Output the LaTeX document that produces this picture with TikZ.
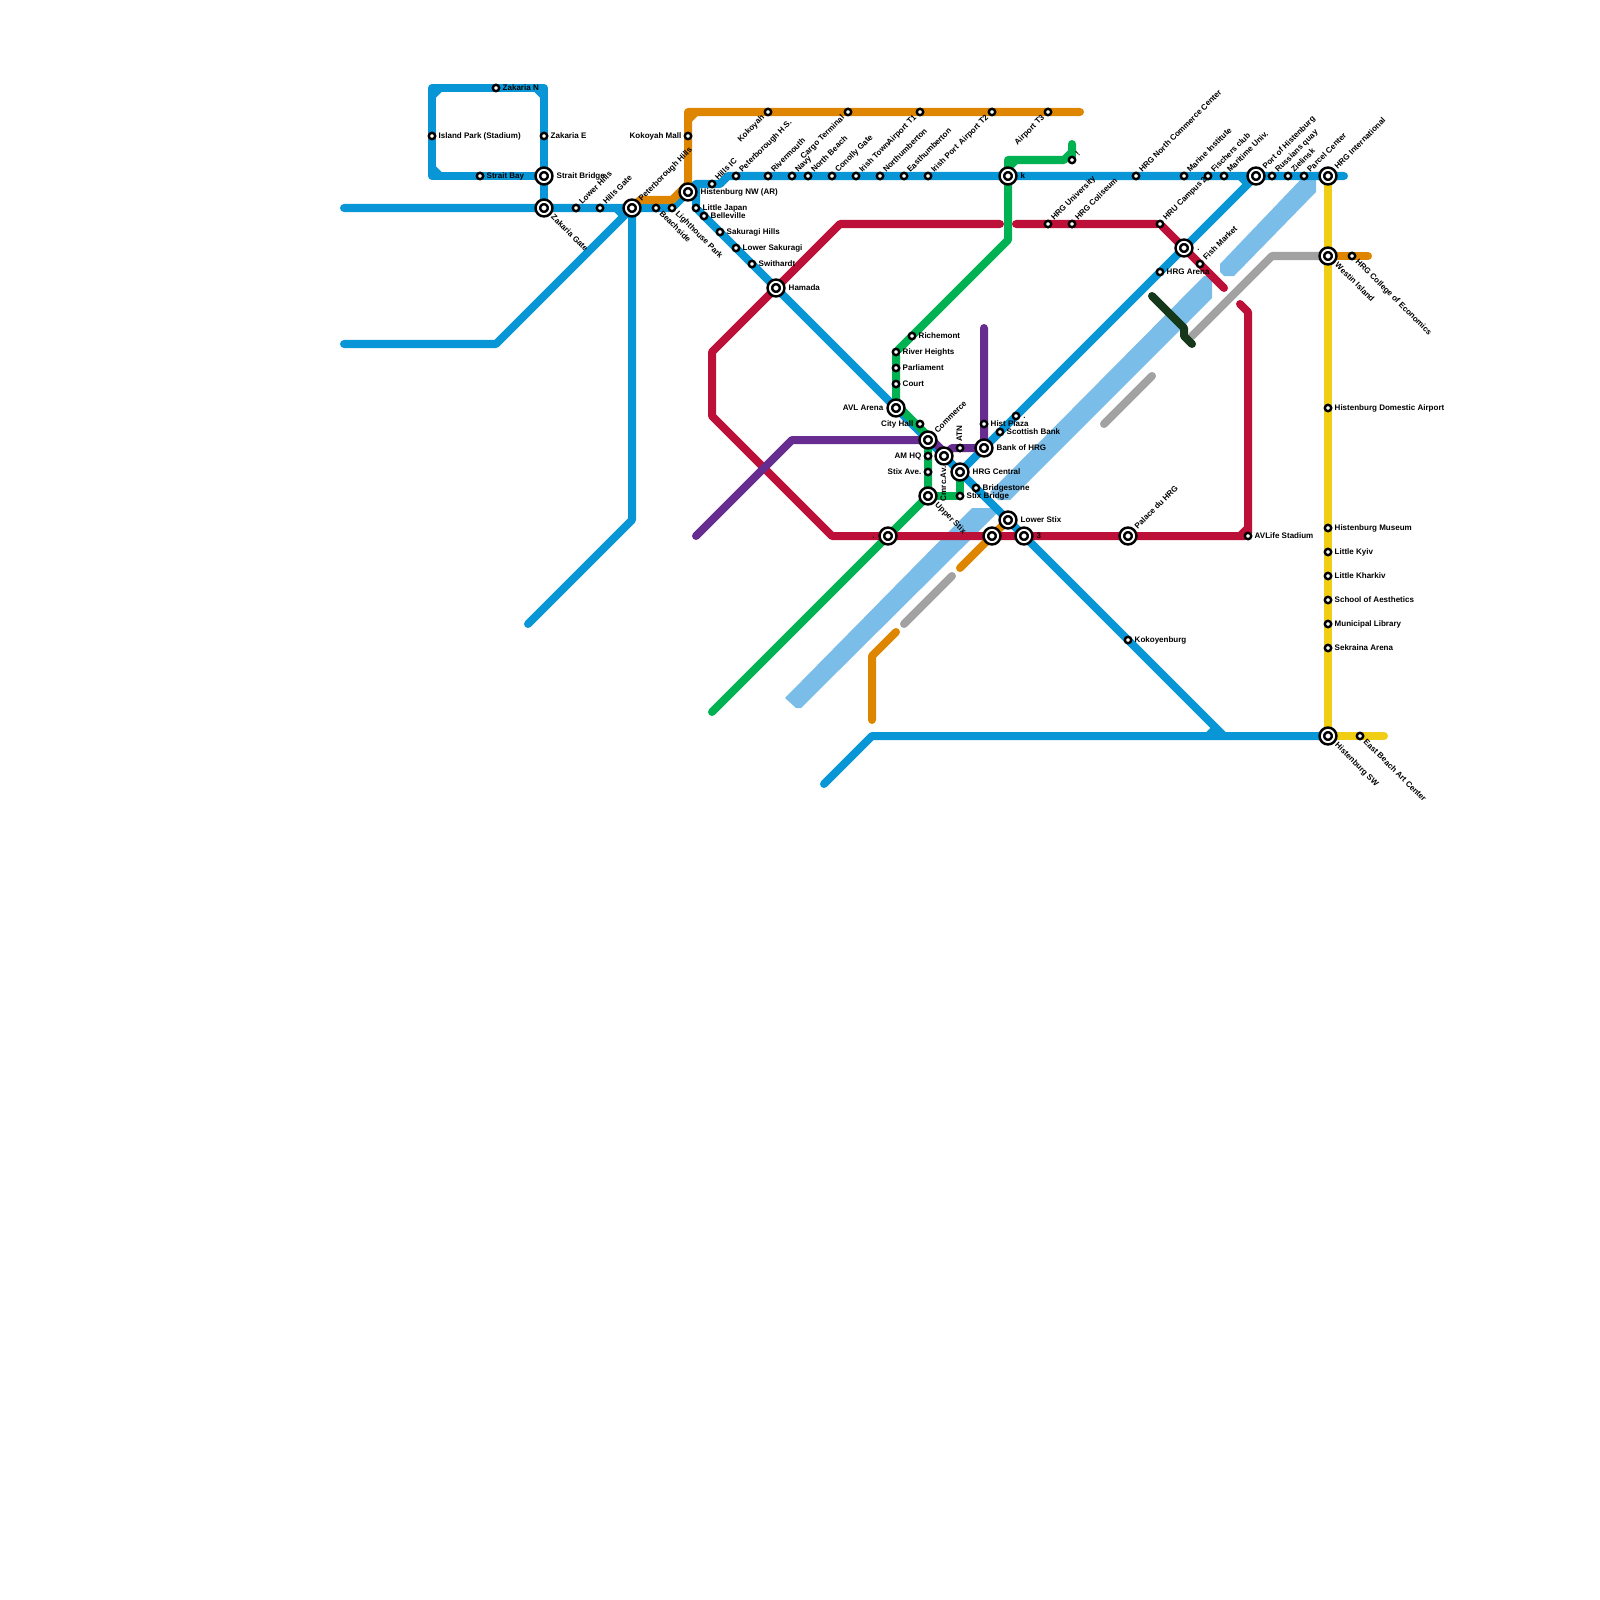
\documentclass[tikz,border=0pt]{standalone}
\usepackage{fontspec}
\setmainfont{Liberation Sans}
\pgfdeclarelayer{lines}
\pgfsetlayers{lines,main}
\definecolor{lineblue}{HTML}{0896D7}
\definecolor{lineorange}{HTML}{DF8600}
\definecolor{linered}{HTML}{BD1038}
\definecolor{linegreen}{HTML}{00B251}
\definecolor{linepurple}{HTML}{662C90}
\definecolor{lineyellow}{HTML}{F0CE15}
\definecolor{linegrey}{HTML}{A2A2A2}
\definecolor{linedark}{HTML}{16381A}
\definecolor{river}{HTML}{7ABDE8}
\tikzset{
	metro/.style={line width=0.08cm,line cap=round,line join=round},
	blueline/.style={metro,draw=lineblue},
	orangeline/.style={metro,draw=lineorange},
	redline/.style={metro,draw=linered},
	greenline/.style={metro,draw=linegreen},
	purpleline/.style={metro,draw=linepurple},
	yellowline/.style={metro,draw=lineyellow},
	greyline/.style={metro,draw=linegrey},
	darkline/.style={metro,draw=linedark},
	water/.style={fill=river},
	stn/.style={circle,draw=black,fill=white,line width=0.024cm,minimum size=0.064cm,inner sep=0pt,outer sep=0pt},
	hub/.style={circle,draw=black,fill=white,line width=0.026cm,double=white,double distance=0.019cm,minimum size=0.122cm,inner sep=0pt,outer sep=0pt},
	lab/.style={inner sep=0pt,font=\bfseries\fontsize{2.28pt}{3pt}\selectfont,text height=0.058cm,text depth=0.014cm},
	labr/.style={lab,anchor=west,xshift=0.06cm},
	labl/.style={lab,anchor=east,xshift=-0.06cm},
	labne/.style={lab,rotate=45,anchor=west,xshift=0.06cm},
	labse/.style={lab,rotate=-45,anchor=west,xshift=0.06cm},
	labsw/.style={lab,rotate=45,anchor=east,xshift=-0.06cm},
	hubr/.style={lab,anchor=west,xshift=0.12cm},
	hubl/.style={lab,anchor=east,xshift=-0.12cm},
	hubne/.style={lab,rotate=45,anchor=west,xshift=0.11cm},
	hubse/.style={lab,rotate=-45,anchor=west,xshift=0.11cm}
}
\begin{document}
\begin{tikzpicture}[x=0.01cm,y=-0.01cm]
	\useasboundingbox (0,0) rectangle (1600,1600);
	\node[stn] (zakarian) at (496,88) {}; \node[labr] (zakarianl) at (zakarian) {Zakaria N};
	\node[stn] (islandpark) at (432,136) {}; \node[labr] (islandparkl) at (islandpark) {Island Park (Stadium)};
	\node[stn] (zakariae) at (544,136) {}; \node[labr] (zakariael) at (zakariae) {Zakaria E};
	\node[stn] (straitbay) at (480,176) {}; \node[labr] (straitbayl) at (straitbay) {Strait Bay};
	\node[hub] (straitbridge) at (544,176) {}; \node[hubr] (straitbridgel) at (straitbridge) {Strait Bridge};
	\node[hub] (zakariagate) at (544,208) {}; \node[hubse] (zakariagatel) at (zakariagate) {Zakaria Gate};
	\node[stn] (lowerhills) at (576,208) {}; \node[labne] (lowerhillsl) at (lowerhills) {Lower Hills};
	\node[stn] (hillsgate) at (600,208) {}; \node[labne] (hillsgatel) at (hillsgate) {Hills Gate};
	\node[hub] (peterhills) at (632,208) {}; \node[hubne] (peterhillsl) at (peterhills) {Peterborough Hills};
	\node[stn] (beachside) at (656,208) {}; \node[labse] (beachsidel) at (beachside) {Beachside};
	\node[stn] (lighthouse) at (672,208) {}; \node[labse] (lighthousel) at (lighthouse) {Lighthouse Park};
	\node[hub] (histnw) at (688,192) {}; \node[hubr] (histnwl) at (histnw) {Histenburg NW (AR)};
	\node[stn] (kokoyahmall) at (688,136) {}; \node[labl] (kokoyahmalll) at (kokoyahmall) {Kokoyah Mall};
	\node[stn] (hillsic) at (712,184) {}; \node[labne] (hillsicl) at (hillsic) {Hills IC};
	\node[stn] (peterhs) at (736,176) {}; \node[labne] (peterhsl) at (peterhs) {Peterborough H.S.};
	\node[stn] (rivermouth) at (768,176) {}; \node[labne] (rivermouthl) at (rivermouth) {Rivermouth};
	\node[stn] (navy) at (792,176) {}; \node[labne] (navyl) at (navy) {Navy};
	\node[stn] (northbeach) at (808,176) {}; \node[labne] (northbeachl) at (northbeach) {North Beach};
	\node[stn] (conolly) at (832,176) {}; \node[labne] (conollyl) at (conolly) {Conolly Gate};
	\node[stn] (irishtown) at (856,176) {}; \node[labne] (irishtownl) at (irishtown) {Irish Town};
	\node[stn] (northumb) at (880,176) {}; \node[labne] (northumbl) at (northumb) {Northumberton};
	\node[stn] (easthumb) at (904,176) {}; \node[labne] (easthumbl) at (easthumb) {Easthumberton};
	\node[stn] (irishport) at (928,176) {}; \node[labne] (irishportl) at (irishport) {Irish Port};
	\node[hub] (khub) at (1008,176) {}; \node[hubr] (khubl) at (khub) {k};
	\node[stn] (hrgnorth) at (1136,176) {}; \node[labne] (hrgnorthl) at (hrgnorth) {HRG North Commerce Center};
	\node[stn] (marine) at (1184,176) {}; \node[labne] (marinel) at (marine) {Marine Institute};
	\node[stn] (fischers) at (1208,176) {}; \node[labne] (fischersl) at (fischers) {Fischers club};
	\node[stn] (maritime) at (1224,176) {}; \node[labne] (maritimel) at (maritime) {Maritime Univ.};
	\node[hub] (port) at (1256,176) {}; \node[hubne] (portl) at (port) {Port of Histenburg};
	\node[stn] (russians) at (1272,176) {}; \node[labne] (russiansl) at (russians) {Russians quay};
	\node[stn] (zielinsk) at (1288,176) {}; \node[labne] (zielinskl) at (zielinsk) {Zielinsk};
	\node[stn] (parcel) at (1304,176) {}; \node[labne] (parcell) at (parcel) {Parcel Center};
	\node[hub] (hrgint) at (1328,176) {}; \node[hubne] (hrgintl) at (hrgint) {HRG International};
	\node[stn] (kokoyah) at (768,112) {}; \node[labsw] (kokoyahl) at (kokoyah) {Kokoyah};
	\node[stn] (cargo) at (848,112) {}; \node[labsw] (cargol) at (cargo) {Cargo Terminal};
	\node[stn] (airportone) at (920,112) {}; \node[labsw] (airportonel) at (airportone) {Airport T1};
	\node[stn] (airporttwo) at (992,112) {}; \node[labsw] (airporttwol) at (airporttwo) {Airport T2};
	\node[stn] (airportthree) at (1048,112) {}; \node[labsw] (airportthreel) at (airportthree) {Airport T3};
	\node[stn] (tick) at (1072,160) {}; \node[labne] (tickl) at (tick) {!};
	\node[stn] (littlejapan) at (696,208) {}; \node[labr] (littlejapanl) at (littlejapan) {Little Japan};
	\node[stn] (belleville) at (704,216) {}; \node[labr] (bellevillel) at (belleville) {Belleville};
	\node[stn] (sakuragi) at (720,232) {}; \node[labr] (sakuragil) at (sakuragi) {Sakuragi Hills};
	\node[stn] (lowersak) at (736,248) {}; \node[labr] (lowersakl) at (lowersak) {Lower Sakuragi};
	\node[stn] (swithardt) at (752,264) {}; \node[labr] (swithardtl) at (swithardt) {Swithardt};
	\node[hub] (hamada) at (776,288) {}; \node[hubr] (hamadal) at (hamada) {Hamada};
	\node[stn] (richemont) at (912,336) {}; \node[labr] (richemontl) at (richemont) {Richemont};
	\node[stn] (riverheights) at (896,352) {}; \node[labr] (riverheightsl) at (riverheights) {River Heights};
	\node[stn] (parliament) at (896,368) {}; \node[labr] (parliamentl) at (parliament) {Parliament};
	\node[stn] (court) at (896,384) {}; \node[labr] (courtl) at (court) {Court};
	\node[hub] (avlarena) at (896,408) {}; \node[hubl] (avlarenal) at (avlarena) {AVL Arena};
	\node[stn] (cityhall) at (920,424) {}; \node[labl] (cityhalll) at (cityhall) {City Hall};
	\node[hub] (commerce) at (928,440) {}; \node[hubne] (commercel) at (commerce) {Commerce};
	\node[stn] (amhq) at (928,456) {}; \node[labl] (amhql) at (amhq) {AM HQ};
	\node[stn] (stixave) at (928,472) {}; \node[labl] (stixavel) at (stixave) {Stix Ave.};
	\node[hub] (cmrcav) at (944,456) {}; \node[lab,rotate=90,anchor=east,xshift=-0.1cm] (cmrcavl) at (cmrcav) {Cmrc.Av.};
	\node[stn] (atn) at (960,448) {}; \node[lab,rotate=90,anchor=west,xshift=0.06cm] (atnl) at (atn) {ATN};
	\node[hub] (bankhrg) at (984,448) {}; \node[hubr] (bankhrgl) at (bankhrg) {Bank of HRG};
	\node[stn] (histplaza) at (984,424) {}; \node[labr] (histplazal) at (histplaza) {Hist Plaza};
	\node[stn] (scottish) at (1000,432) {}; \node[labr] (scottishl) at (scottish) {Scottish Bank};
	\node[stn] (dotstn) at (1016,416) {}; \node[labr] (dotstnl) at (dotstn) {.};
	\node[hub] (hrgcentral) at (960,472) {}; \node[hubr] (hrgcentrall) at (hrgcentral) {HRG Central};
	\node[stn] (bridgestone) at (976,488) {}; \node[labr] (bridgestonel) at (bridgestone) {Bridgestone};
	\node[stn] (stixbridge) at (960,496) {}; \node[labr] (stixbridgel) at (stixbridge) {Stix Bridge};
	\node[hub] (upperstix) at (928,496) {}; \node[hubse] (upperstixl) at (upperstix) {Upper Stix};
	\node[hub] (lowerstix) at (1008,520) {}; \node[hubr] (lowerstixl) at (lowerstix) {Lower Stix};
	\node[hub] (dothub) at (888,536) {}; \node[hubl] (dothubl) at (dothub) {.};
	\node[hub] (plainhub) at (992,536) {};
	\node[hub] (threehub) at (1024,536) {}; \node[hubr] (threehubl) at (threehub) {3};
	\node[hub] (palace) at (1128,536) {}; \node[hubne] (palacel) at (palace) {Palace du HRG};
	\node[stn] (avlife) at (1248,536) {}; \node[labr] (avlifel) at (avlife) {AVLife Stadium};
	\node[stn] (kokoyenburg) at (1128,640) {}; \node[labr] (kokoyenburgl) at (kokoyenburg) {Kokoyenburg};
	\node[stn] (hrguni) at (1048,224) {}; \node[labne] (hrgunil) at (hrguni) {HRG University};
	\node[stn] (hrgcol) at (1072,224) {}; \node[labne] (hrgcoll) at (hrgcol) {HRG Coliseum};
	\node[stn] (hrucampus) at (1160,224) {}; \node[labne] (hrucampusl) at (hrucampus) {HRU Campus 2};
	\node[hub] (dothubtwo) at (1184,248) {}; \node[hubr] (dothubtwol) at (dothubtwo) {.};
	\node[stn] (fishmarket) at (1200,264) {}; \node[labne] (fishmarketl) at (fishmarket) {Fish Market};
	\node[stn] (hrgarena) at (1160,272) {}; \node[labr] (hrgarenal) at (hrgarena) {HRG Arena};
	\node[hub] (westin) at (1328,256) {}; \node[hubse] (westinl) at (westin) {Westin Island};
	\node[stn] (hrgecon) at (1352,256) {}; \node[labse] (hrgeconl) at (hrgecon) {HRG College of Economics};
	\node[stn] (domestic) at (1328,408) {}; \node[labr] (domesticl) at (domestic) {Histenburg Domestic Airport};
	\node[stn] (museum) at (1328,528) {}; \node[labr] (museuml) at (museum) {Histenburg Museum};
	\node[stn] (kyiv) at (1328,552) {}; \node[labr] (kyivl) at (kyiv) {Little Kyiv};
	\node[stn] (kharkiv) at (1328,576) {}; \node[labr] (kharkivl) at (kharkiv) {Little Kharkiv};
	\node[stn] (aesthetics) at (1328,600) {}; \node[labr] (aestheticsl) at (aesthetics) {School of Aesthetics};
	\node[stn] (library) at (1328,624) {}; \node[labr] (libraryl) at (library) {Municipal Library};
	\node[stn] (sekraina) at (1328,648) {}; \node[labr] (sekrainal) at (sekraina) {Sekraina Arena};
	\node[hub] (histsw) at (1328,736) {}; \node[hubse] (histswl) at (histsw) {Histenburg SW};
	\node[stn] (eastbeach) at (1360,736) {}; \node[labse] (eastbeachl) at (eastbeach) {East Beach Art Center};
	\coordinate (bluewest) at (344,208);
	\coordinate (bluelow) at (344,344);
	\coordinate (blueknee) at (496,344);
	\coordinate (loopne) at (544,88);
	\coordinate (loopnw) at (432,88);
	\coordinate (loopsw) at (432,176);
	\coordinate (bluedrop) at (632,520);
	\coordinate (bluetail) at (528,624);
	\coordinate (icwest) at (696,184);
	\coordinate (iceast) at (720,184);
	\coordinate (icrise) at (728,176);
	\coordinate (blueeast) at (1344,176);
	\coordinate (bluejoin) at (1224,736);
	\coordinate (southtail) at (824,784);
	\coordinate (southknee) at (872,736);
	\coordinate (orangea) at (640,200);
	\coordinate (orangeb) at (672,200);
	\coordinate (orangec) at (688,184);
	\coordinate (oranged) at (688,112);
	\coordinate (orangee) at (1080,112);
	\coordinate (orangef) at (1368,256);
	\coordinate (orangeg) at (960,568);
	\coordinate (orangeh) at (896,632);
	\coordinate (orangei) at (872,656);
	\coordinate (orangej) at (872,720);
	\coordinate (greena) at (712,712);
	\coordinate (greenb) at (900,408);
	\coordinate (greenc) at (928,436);
	\coordinate (greend) at (1008,240);
	\coordinate (greene) at (1008,160);
	\coordinate (greenf) at (1064,160);
	\coordinate (greeng) at (1072,152);
	\coordinate (greenh) at (1072,144);
	\coordinate (reda) at (1016,224);
	\coordinate (redb) at (1224,288);
	\coordinate (redc) at (1000,224);
	\coordinate (redd) at (840,224);
	\coordinate (rede) at (712,352);
	\coordinate (redf) at (712,416);
	\coordinate (redg) at (832,536);
	\coordinate (redh) at (1248,312);
	\coordinate (redi) at (1240,304);
	\coordinate (purplea) at (696,536);
	\coordinate (purpleb) at (792,440);
	\coordinate (purplec) at (932,440);
	\coordinate (purpled) at (948,456);
	\coordinate (purplee) at (952,448);
	\coordinate (purplef) at (984,328);
	\coordinate (yellowe) at (1384,736);
	\coordinate (greya) at (1272,256);
	\coordinate (greyb) at (1192,336);
	\coordinate (greyc) at (1152,376);
	\coordinate (greyd) at (1104,424);
	\coordinate (greye) at (952,576);
	\coordinate (greyf) at (904,624);
	\coordinate (darka) at (1152,296);
	\coordinate (darkb) at (1184,328);
	\coordinate (darkc) at (1184,336);
	\coordinate (darkd) at (1192,344);
	\begin{pgfonlayer}{lines}
	\fill[water] (1304,176) -- (1316,176) -- (1316,192) -- (1234,276) -- (1224,276) -- (1220,272) -- (1220,264) -- cycle;
	\fill[water] (1204,276) -- (1209,276) -- (1212,280) -- (1212,298) -- (1010,500) -- (998,500) -- (990,492) -- cycle;
	\fill[water] (972,508) -- (993,508) -- (998,512) -- (964,546) -- (801,708) -- (796,708) -- (785,698) -- cycle;
	\draw[greyline] (westin) to (greya) to (greyb);
	\draw[greyline] (greyc) to (greyd);
	\draw[greyline] (greye) to (greyf);
	\draw[blueline] (bluewest) to (peterhills) to (lighthouse) to (histnw) to (icwest) to (iceast) to (icrise) to (blueeast);
	\draw[blueline] (zakariagate) to (loopne) to (loopnw) to (loopsw) to (straitbridge);
	\draw[blueline] (loopnw) ++(0,8) to ++(8,-8);
	\draw[blueline] (loopne) ++(-8,0) to ++(8,8);
	\draw[blueline] (loopsw) ++(0,-8) to ++(8,8);
	\draw[blueline] (bluelow) to (blueknee) to (peterhills);
	\draw[blueline] (peterhills) ++(-16,0) to ++(8,8);
	\draw[blueline] (peterhills) to (bluedrop) to (bluetail);
	\draw[blueline] (icwest) to (littlejapan) to (bluejoin);
	\draw[blueline] (southtail) to (southknee) to (histsw);
	\draw[blueline] (bluejoin) ++(-8,-8) to ++(-8,8);
	\draw[blueline] (port) to (hrgcentral);
	\draw[blueline] (port) ++(-16,0) to ++(8,8);
	\draw[orangeline] (peterhills) to (orangea) to (orangeb) to (orangec) to (oranged) to (orangee);
	\draw[orangeline] (oranged) ++(0,8) to ++(8,-8);
	\draw[orangeline] (westin) to (orangef);
	\draw[orangeline] (lowerstix) to (orangeg);
	\draw[orangeline] (orangeh) to (orangei) to (orangej);
	\draw[greenline] (greena) to (upperstix) to (commerce);
	\draw[greenline] (upperstix) to (stixbridge) to (hrgcentral);
	\draw[greenline] (greenb) to (greenc);
	\draw[greenline] (avlarena) to (riverheights) to (greend) to (greene) to (greenf) to (greeng) to (greenh);
	\draw[greenline] (greene) ++(0,8) to ++(8,-8);
	\draw[greenline] (greeng) to (tick);
	\draw[redline] (reda) to (hrucampus) to (redb);
	\draw[redline] (redc) to (redd) to (rede) to (redf) to (redg) to (avlife) to (redh) to (redi);
	\draw[redline] (avlife) ++(-8,0) to ++(8,-8);
	\draw[purpleline] (purplea) to (purpleb) to (commerce);
	\draw[purpleline] (purplec) to (purpled);
	\draw[purpleline] (cmrcav) to (purplee) to (bankhrg) to (purplef);
	\draw[yellowline] (hrgint) to (histsw) to (yellowe);
	\draw[darkline] (darka) to (darkb) to (darkc) to (darkd);
	\end{pgfonlayer}
\end{tikzpicture}
\end{document}
